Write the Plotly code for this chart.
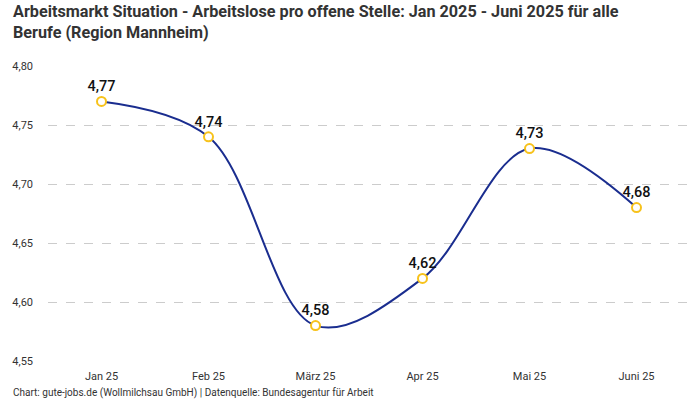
import plotly.graph_objects as go

months = ["Jan 25", "Feb 25", "März 25", "Apr 25", "Mai 25", "Juni 25"]
values = [4.77, 4.74, 4.58, 4.62, 4.73, 4.68]
labels = ["4,77", "4,74", "4,58", "4,62", "4,73", "4,68"]
yticks = [4.55, 4.60, 4.65, 4.70, 4.75, 4.80]
yticklabels = ["4,55", "4,60", "4,65", "4,70", "4,75", "4,80"]

fig = go.Figure()
fig.add_trace(go.Scatter(
    x=months, y=values,
    mode="lines+markers+text",
    line=dict(color="#1a2d8f", width=2, shape="spline", smoothing=1.0),
    marker=dict(size=9, color="white", line=dict(color="#f7c21b", width=2)),
    text=labels, textposition="top center",
    textfont=dict(family="Roboto", size=14.5, color="#111111", weight=500),
    cliponaxis=False,
    hoverinfo="skip",
))

fig.update_layout(
    width=700, height=400,
    margin=dict(l=48, r=10, t=66, b=39),
    paper_bgcolor="white", plot_bgcolor="white",
    showlegend=False,
    font=dict(family="Roboto", color="#333333"),
    xaxis=dict(
        type="category", range=[-0.5, 5.5],
        showgrid=False, zeroline=False, showline=False,
        ticks="", ticklabelstandoff=7,
        tickfont=dict(size=11, color="#333333"),
    ),
    yaxis=dict(
        range=[4.55, 4.80], tickvals=yticks, ticktext=yticklabels,
        showgrid=True, gridcolor="#cccccc", griddash="dash", gridwidth=1,
        zeroline=False, showline=False, ticks="",
        ticklabelstandoff=14,
        tickfont=dict(size=11, color="#333333"),
    ),
    annotations=[
        dict(
            text="<b>Arbeitsmarkt Situation - Arbeitslose pro offene Stelle: Jan 2025 - Juni 2025 für alle<br>Berufe (Region Mannheim)</b>",
            xref="paper", yref="paper", x=-0.058, y=1.2237, xanchor="left", yanchor="top",
            align="left", showarrow=False,
            font=dict(family="Roboto", size=16.2, color="#333333"),
        ),
        dict(
            text="Chart: gute-jobs.de (Wollmilchsau GmbH) | Datenquelle: Bundesagentur für Arbeit",
            xref="paper", yref="paper", x=-0.058, y=-0.136, xanchor="left", yanchor="bottom",
            showarrow=False, font=dict(family="Roboto", size=10, color="#333333"),
        ),
    ],
)

fig.write_html(
    "out.html",
    config={"displayModeBar": False},
    post_script="document.body.style.margin='0';document.body.style.overflow='hidden';",
)
